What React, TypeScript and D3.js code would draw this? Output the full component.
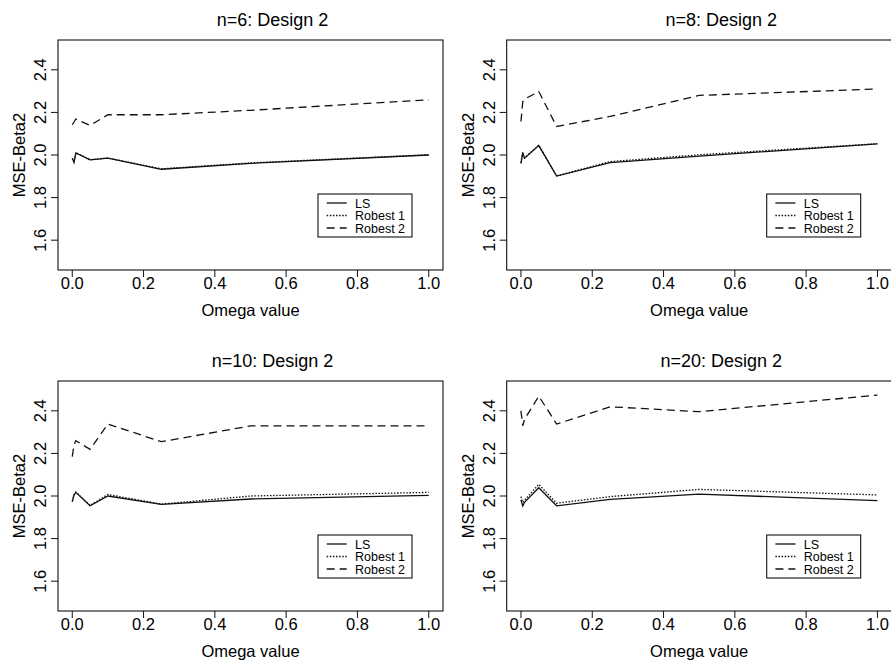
import * as d3 from 'd3';

// Omega grid used in the simulation
const omega = [0, 0.005, 0.01, 0.05, 0.1, 0.25, 0.5, 1];

// n = 6
const n6LS = [1.985, 1.965, 2.01, 1.977, 1.985, 1.933, 1.961, 2.0];
const n6R1 = [1.986, 1.966, 2.011, 1.978, 1.986, 1.935, 1.963, 2.001];
const n6R2 = [2.142, 2.155, 2.169, 2.139, 2.189, 2.189, 2.21, 2.259];

// n = 8
const n8LS = [1.961, 2.011, 1.985, 2.044, 1.901, 1.964, 1.995, 2.052];
const n8R1 = [1.962, 2.012, 1.986, 2.046, 1.902, 1.969, 2.001, 2.053];
const n8R2 = [2.157, 2.25, 2.262, 2.298, 2.134, 2.181, 2.28, 2.31];

// n = 10
const n10LS = [1.973, 2.005, 2.017, 1.954, 2.0, 1.961, 1.986, 2.003];
const n10R1 = [1.975, 2.006, 2.019, 1.956, 2.007, 1.962, 2.0, 2.017];
const n10R2 = [2.185, 2.24, 2.26, 2.219, 2.338, 2.255, 2.329, 2.329];

// n = 20
const n20LS = [1.981, 1.953, 1.97, 2.039, 1.954, 1.984, 2.009, 1.978];
const n20R1 = [1.997, 1.97, 1.98, 2.055, 1.966, 1.997, 2.031, 2.005];
const n20R2 = [2.4, 2.33, 2.36, 2.469, 2.338, 2.419, 2.396, 2.474];

const xTicks = [0, 0.2, 0.4, 0.6, 0.8, 1.0];
const yTicks = [1.6, 1.8, 2.0, 2.2, 2.4];
const legendLabels = ['LS', 'Robest 1', 'Robest 2'];
const dashes = ['none', '1.5,1.6', '8,5'];

const FONT = '"Liberation Sans", Arial, Helvetica, sans-serif';
const W = 385;
const H = 230;

interface PanelProps {
  title: string;
  left: number;
  top: number;
  series: number[][];
}

function Panel({ title, left, top, series }: PanelProps) {
  const x = d3.scaleLinear().domain([-0.04, 1.04]).range([0, W]);
  const y = d3.scaleLinear().domain([1.46, 2.54]).range([H, 0]);
  const line = d3.line<number>()
    .x((_, i) => x(omega[i]))
    .y(d => y(d));

  return (
    <g transform={`translate(${left},${top})`} fontFamily={FONT} fill="#000">
      <text x={W / 2 + 22} y={-14} textAnchor="middle" fontSize={18}>{title}</text>

      {series.map((s, i) => (
        <path key={i} d={line(s) || ''} fill="none" stroke="#111"
          strokeWidth={1.3} strokeDasharray={dashes[i]} />
      ))}

      <rect x={0} y={0} width={W} height={H} fill="none" stroke="#111" strokeWidth={1.1} />

      {xTicks.map(t => (
        <g key={t} transform={`translate(${x(t)},${H})`}>
          <line y1={0} y2={7} stroke="#111" />
          <text y={19} textAnchor="middle" fontSize={16.5}>{t.toFixed(1)}</text>
        </g>
      ))}
      <text x={W / 2} y={H + 46} textAnchor="middle" fontSize={16.5}>Omega value</text>

      {yTicks.map(t => (
        <g key={t} transform={`translate(0,${y(t)})`}>
          <line x1={0} x2={-7} stroke="#111" />
          <text transform="translate(-12,0) rotate(-90)" textAnchor="middle" fontSize={16.5}>{t.toFixed(1)}</text>
        </g>
      ))}
      <text transform={`translate(-33,${H / 2}) rotate(-90)`} textAnchor="middle" fontSize={16.5}>MSE-Beta2</text>

      <g transform={`translate(${W - 125},154)`}>
        <rect width={94} height={43} fill="#fff" stroke="#111" strokeWidth={1.1} />
        {legendLabels.map((lab, i) => (
          <g key={lab} transform={`translate(0,${9 + i * 12.5})`}>
            <line x1={8.7} x2={28.7} stroke="#111" strokeWidth={1.3} strokeDasharray={dashes[i]} />
            <text x={37} y={4.5} fontSize={12.5}>{lab}</text>
          </g>
        ))}
      </g>
    </g>
  );
}

export default function App() {
  return (
    <svg width={891} height={666} style={{ position: 'absolute', left: 0, top: 0, background: '#fff' }}>
      <rect width={891} height={666} fill="#fff" />
      <Panel title="n=6: Design 2" left={58} top={40} series={[n6LS, n6R1, n6R2]} />
      <Panel title="n=8: Design 2" left={506.7} top={40} series={[n8LS, n8R1, n8R2]} />
      <Panel title="n=10: Design 2" left={58} top={381} series={[n10LS, n10R1, n10R2]} />
      <Panel title="n=20: Design 2" left={506.7} top={381} series={[n20LS, n20R1, n20R2]} />
    </svg>
  );
}
